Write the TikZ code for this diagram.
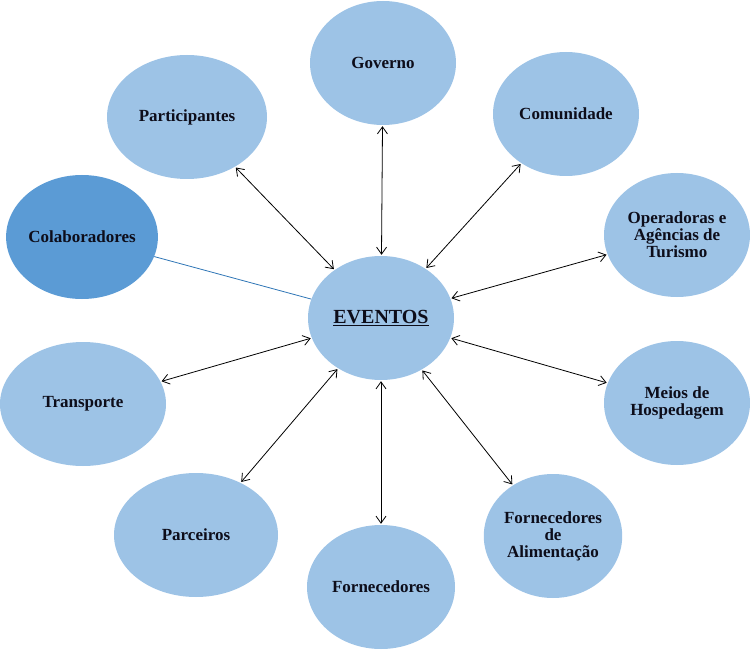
\documentclass[tikz,border=0pt]{standalone}
\usepackage{fontspec}
\setmainfont{Liberation Serif}
\usetikzlibrary{shapes.geometric,arrows.meta}
\definecolor{lightb}{HTML}{9DC3E6}
\definecolor{darkb}{HTML}{5B9BD5}
\definecolor{linkb}{HTML}{2E75B6}
\definecolor{txt}{HTML}{0D0D1A}
\begin{document}
\begin{tikzpicture}[x=1pt,y=-1pt,
  bubble/.style={ellipse,fill=lightb,draw=none,inner sep=0pt,minimum width=146pt,minimum height=124pt,
    align=center,text=txt,font=\fontsize{17}{17}\selectfont\bfseries},
  link/.style={{Straight Barb[length=7pt,width=10pt]}-{Straight Barb[length=7pt,width=10pt]},draw=black,line width=0.8pt,shorten <=1pt,shorten >=1pt}]
\useasboundingbox (0,0) rectangle (750,650);
\node[bubble,font=\fontsize{20}{22}\selectfont\bfseries] (ev) at (381,318) {\underline{EVENTOS}};
\node[bubble] (gov) at (383,63) {Governo};
\node[bubble,minimum width=160pt] (par) at (187,117) {Participantes};
\node[bubble] (com) at (566,114) {Comunidade};
\node[bubble,fill=darkb,minimum width=146pt] (col) at (82,237) {Colaboradores};
\node[bubble] (ope) at (677,235) {Operadoras e\\Agências de\\Turismo};
\node[bubble,minimum width=166pt] (tra) at (83,404) {Transporte};
\node[bubble] (mei) at (677,403) {Meios de\\Hospedagem};
\node[bubble,minimum width=164pt] (pce) at (196,535) {Parceiros};
\node[bubble,minimum width=148pt] (for) at (381,587) {Fornecedores};
\node[bubble,minimum width=128pt] (ali) at (553,536) {Fornecedores\\de\\Alimentação};
\draw[link] (par) -- (ev);
\draw[link] (gov) -- (ev);
\draw[link] (com) -- (ev);
\draw[link] (ope) -- (ev);
\draw[link] (mei) -- (ev);
\draw[link] (ali) -- (ev);
\draw[link] (for) -- (ev);
\draw[link] (pce) -- (ev);
\draw[link] (tra) -- (ev);
\draw[linkb,line width=0.8pt] (col) -- (ev);
\end{tikzpicture}
\end{document}
